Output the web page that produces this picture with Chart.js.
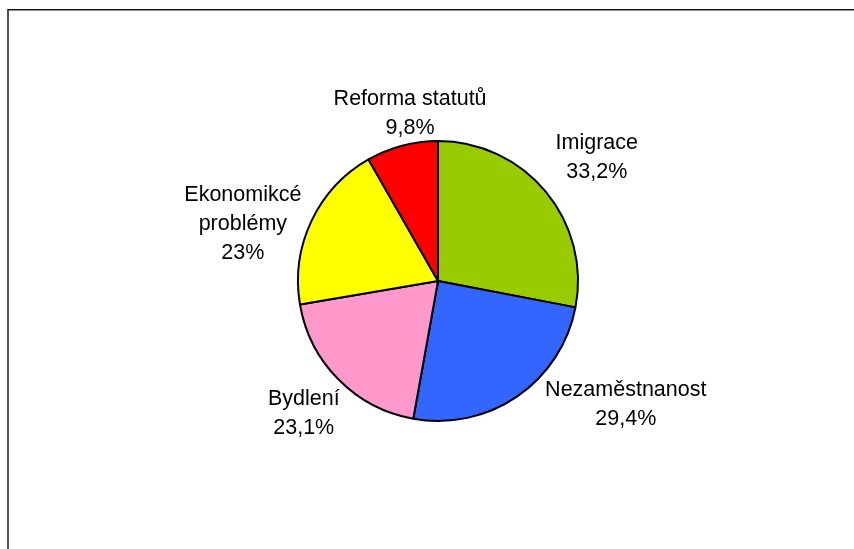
<!DOCTYPE html>
<html>
<head>
<meta charset="utf-8">
<script src="https://cdn.jsdelivr.net/npm/chart.js@4/dist/chart.umd.min.js"></script>
<style>
  html, body { margin: 0; padding: 0; background: #fff; }
  canvas { display: block; }
</style>
</head>
<body>
<canvas id="pie-chart" width="854" height="549"></canvas>
<script>
// Kategorie a hodnoty
const categories = ['Imigrace', 'Nezaměstnanost', 'Bydlení', ['Ekonomikcé', 'problémy'], 'Reforma statutů'];
const values = [33.2, 29.4, 23.1, 23, 9.8];

// Barvy výsečí
const sliceColors = ['#99CC00', '#3366FF', '#FF99CC', '#FFFF00', '#FF0000'];

// Posun popisků od radiálního bodu (px)
const labelShift = [[12, -2], [80, -33], [1, -1], [-23, 24], [21, 17]];

const FONT = '21.5px "Liberation Sans", Arial, sans-serif';
const LINE_H = 29;

function fmtPct(v) {
  return String(v).replace('.', ',') + '%';
}

// Rámeček kolem grafu (jen horní a levá hrana)
const framePlugin = {
  id: 'frame',
  beforeDraw(chart) {
    const ctx = chart.ctx;
    ctx.save();
    ctx.strokeStyle = '#1a1a1a';
    ctx.lineWidth = 1.5;
    ctx.beginPath();
    ctx.moveTo(8, chart.height);
    ctx.lineTo(8, 9.75);
    ctx.lineTo(chart.width, 9.75);
    ctx.stroke();
    ctx.restore();
  }
};

// Popisky výsečí: název + procenta
const sliceLabels = {
  id: 'sliceLabels',
  afterDatasetsDraw(chart) {
    const ctx = chart.ctx;
    const meta = chart.getDatasetMeta(0);
    ctx.save();
    ctx.font = FONT;
    ctx.fillStyle = '#000';
    ctx.textAlign = 'center';
    ctx.textBaseline = 'middle';
    meta.data.forEach((arc, i) => {
      const p = arc.getProps(['x', 'y', 'startAngle', 'endAngle', 'outerRadius'], true);
      const mid = (p.startAngle + p.endAngle) / 2;
      const dist = p.outerRadius * 1.36;
      const cx = p.x + Math.cos(mid) * dist + labelShift[i][0];
      const cy = p.y + Math.sin(mid) * dist + labelShift[i][1];
      const name = Array.isArray(categories[i]) ? categories[i] : [categories[i]];
      const lines = name.concat([fmtPct(values[i])]);
      const top = cy - (lines.length - 1) * LINE_H / 2;
      lines.forEach((t, k) => ctx.fillText(t, cx, top + k * LINE_H));
    });
    ctx.restore();
  }
};

new Chart(document.getElementById('pie-chart').getContext('2d'), {
  type: 'pie',
  data: {
    labels: categories,
    datasets: [{
      data: values,
      backgroundColor: sliceColors,
      borderColor: '#000',
      borderWidth: 2
    }]
  },
  options: {
    responsive: false,
    animation: false,
    layout: {
      padding: { left: 297, right: 275, top: 140, bottom: 127 }
    },
    plugins: {
      legend: { display: false },
      tooltip: { enabled: false }
    }
  },
  plugins: [framePlugin, sliceLabels]
});
</script>
</body>
</html>
